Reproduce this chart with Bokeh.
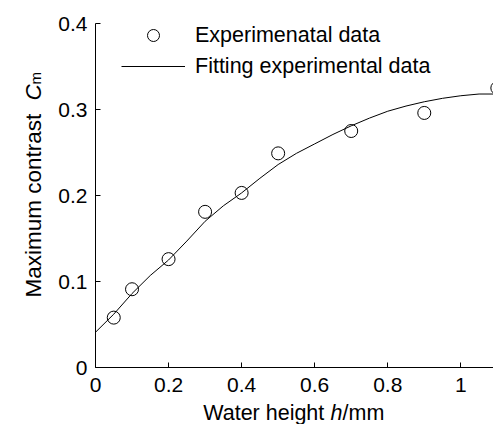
import math
from bokeh.plotting import figure
from bokeh.models import Range1d, FixedTicker, Label, Legend, LegendItem
from bokeh.layouts import row, column
from bokeh.embed import file_html
from bokeh.resources import INLINE

# ---- data ----
x_exp = [0.05, 0.1, 0.2, 0.3, 0.4, 0.5, 0.7, 0.9, 1.1]
y_exp = [0.058, 0.091, 0.126, 0.181, 0.203, 0.249, 0.275, 0.296, 0.325]

x_fit = [0.0, 0.05, 0.1, 0.15, 0.2, 0.25, 0.3, 0.35, 0.4, 0.45, 0.5, 0.55,
         0.6, 0.65, 0.7, 0.75, 0.8, 0.85, 0.9, 0.95, 1.0, 1.05, 1.1]
y_fit = [0.041, 0.062, 0.086, 0.107, 0.125, 0.147, 0.170, 0.188, 0.203, 0.220,
         0.236, 0.249, 0.260, 0.271, 0.281, 0.290, 0.298, 0.304, 0.309, 0.313,
         0.316, 0.318, 0.318]

x_ticks = [0, 0.2, 0.4, 0.6, 0.8, 1]
x_tick_labels = ["0", "0.2", "0.4", "0.6", "0.8", "1"]
y_ticks = [0, 0.1, 0.2, 0.3, 0.4]
y_tick_labels = ["0", "0.1", "0.2", "0.3", "0.4"]

legend_labels = ["Experimenatal data", "Fitting experimental data"]
x_title = ["Water height ", "h", "/mm"]
y_title = ["Maximum contrast", "C", "m"]

FONT = "Liberation Sans"
FS = "21px"
W, H = 493, 424
YW = 50          # width of the strip holding the y title
XH = 22          # height of the strip holding the x title
MW, MH = W - YW, H - XH
FTOP, FBOT = 23, 367   # page y of the plot frame's top and bottom


def bare(width, height, top=0, bottom=0):
    f = figure(width=width, height=height, output_backend="svg", title=None,
               toolbar_location=None, x_axis_location=None,
               y_axis_location=None, x_range=Range1d(0, width),
               y_range=Range1d(0, height - top - bottom), min_border=0,
               min_border_top=top, min_border_bottom=bottom,
               min_border_left=0, min_border_right=0)
    f.grid.visible = False
    f.outline_line_color = None
    f.background_fill_color = "white"
    f.border_fill_color = "white"
    return f


# ---- main plot ----
p = figure(width=MW, height=MH, output_backend="svg", toolbar_location=None,
           title=None,
           x_range=Range1d(0, 1.0895), y_range=Range1d(0, 0.4),
           min_border_left=95 - YW, min_border_right=0, min_border_top=FTOP,
           min_border_bottom=MH - FBOT)
p.outline_line_color = None
p.xgrid.visible = False
p.ygrid.visible = False
p.background_fill_color = "white"
p.border_fill_color = "white"

for ax, ticks, labels, standoff in ((p.xaxis[0], x_ticks, x_tick_labels, 10),
                                    (p.yaxis[0], y_ticks, y_tick_labels, 8)):
    ax.ticker = FixedTicker(ticks=ticks)
    ax.major_label_overrides = {t: l for t, l in zip(ticks, labels)}
    ax.minor_tick_line_color = None
    ax.major_tick_in = 5
    ax.major_tick_out = 0
    ax.axis_line_color = "black"
    ax.major_tick_line_color = "black"
    ax.major_label_text_font = FONT
    ax.major_label_text_font_size = FS
    ax.major_label_text_color = "black"
    ax.major_label_standoff = standoff

fit_r = p.line(x_fit, y_fit, line_color="black", line_width=1)
exp_r = p.scatter(x_exp, y_exp, marker="circle", size=13, fill_color=None,
                  line_color="black", line_width=1)

legend = Legend(items=[LegendItem(label=legend_labels[0], renderers=[exp_r]),
                       LegendItem(label=legend_labels[1], renderers=[fit_r])],
                location=(26, 286), glyph_width=64, glyph_height=30,
                label_height=30, spacing=1, label_standoff=10, padding=0,
                margin=0, border_line_color=None, background_fill_alpha=0,
                label_text_font=FONT, label_text_font_size="21.5px",
                label_text_color="black")
p.add_layout(legend, "center")


def lab(fig, x, y, text, **kw):
    opts = dict(text_font=FONT, text_font_size=FS, text_color="black",
                text_baseline="alphabetic", text_align="left")
    opts.update(kw)
    fig.add_layout(Label(x=x, y=y, text=text, **opts))


# ---- y title strip: frame spans page y FTOP..FBOT, data y = FBOT - page y ----
yf = bare(YW, MH, top=FTOP, bottom=MH - FBOT)
YFS = "22.5px"
lab(yf, 33, FBOT - 297, y_title[0], angle=math.pi / 2, text_font_size=YFS)
lab(yf, 33, FBOT - 100, y_title[1], angle=math.pi / 2,
    text_font_style="italic", text_font_size=YFS)
lab(yf, 35, FBOT - 84, y_title[2], angle=math.pi / 2, text_font_size="15px")

# ---- x title strip (page x 0..493, page y 402..424) ----
xf = bare(W, XH)
XB = 12
XFS = "21.5px"
lab(xf, 202.7, XB, x_title[0], text_font_size=XFS)
lab(xf, 330, XB, x_title[1], text_font_style="italic", text_font_size=XFS)
lab(xf, 342, XB, x_title[2], text_font_size=XFS)

layout = column(row(yf, p, spacing=0), xf, spacing=0)

open("out.html", "w").write(file_html(layout, INLINE))
